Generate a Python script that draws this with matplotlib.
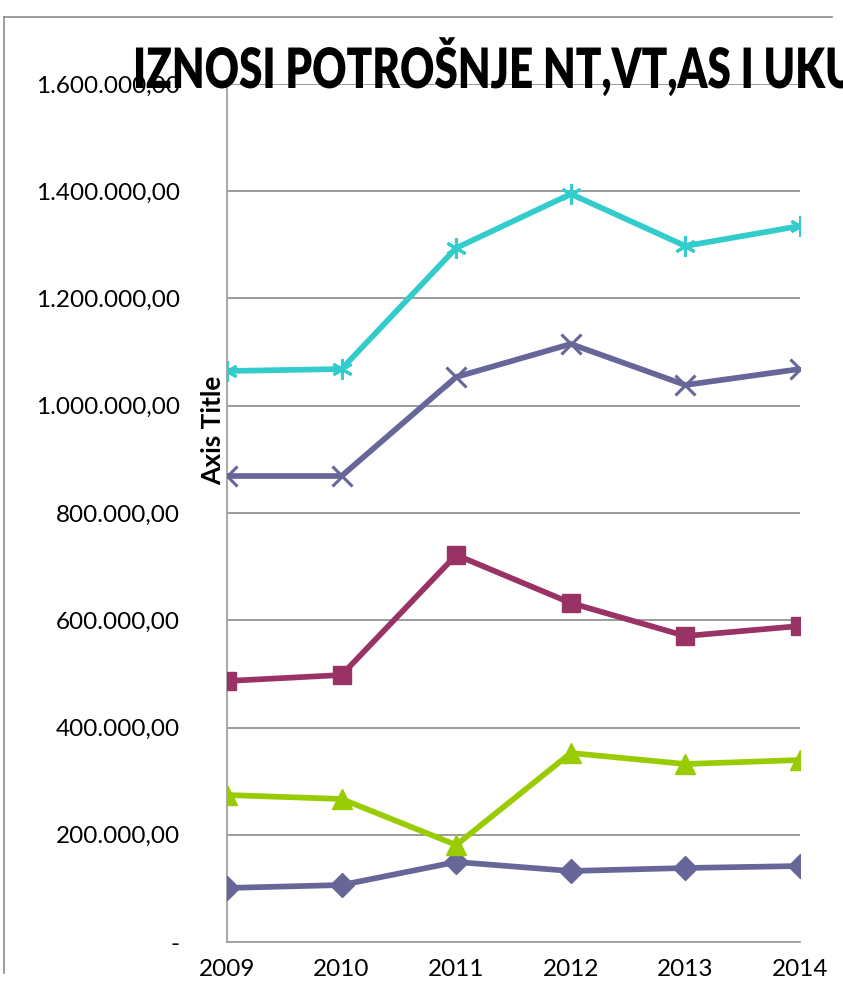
import matplotlib
matplotlib.use("Agg")
import matplotlib.pyplot as plt
from matplotlib.lines import Line2D
from matplotlib.ticker import FuncFormatter, MultipleLocator
from matplotlib.patheffects import AbstractPathEffect
from matplotlib.transforms import Affine2D

years = [2009, 2010, 2011, 2012, 2013, 2014]
series_nt = [100700, 106300, 149200, 132400, 138000, 141700]
series_vt = [274100, 266700, 180900, 352400, 331900, 339400]
series_as = [486700, 497900, 721700, 632200, 570600, 589300]
series_sum = [869000, 869000, 1053600, 1115200, 1038700, 1068500]
series_top = [1064800, 1068500, 1294200, 1394900, 1297900, 1335200]

title = "IZNOSI POTROŠNJE NT,VT,AS I UKUPNO"
axis_title = "Axis Title"

plt.rcParams['font.family'] = ['Lato', 'DejaVu Sans']

W, H = 843, 988
fig = plt.figure(figsize=(W / 100, H / 100), dpi=100)
ax = fig.add_axes([227 / W, 46 / H, (800 - 227) / W, (942 - 84) / H])

lw = 4.1
ax.plot(years, series_nt, color='#666699', lw=lw, marker='D', ms=12, zorder=3)
ax.plot(years, series_vt, color='#99CC00', lw=lw, marker='^', ms=15, zorder=3)
ax.plot(years, series_as, color='#993366', lw=lw, marker='s', ms=13, zorder=3)
ax.plot(years, series_sum, color='#666699', lw=lw, marker='x', ms=14, mew=2.2, zorder=3)
ax.plot(years, series_top, color='#33CCCC', lw=lw, marker=(6, 2, 0), ms=15, mew=2.2, zorder=3)

ax.set_xlim(years[0], years[-1])
ax.set_ylim(0, 1600000)
ax.yaxis.set_major_locator(MultipleLocator(200000))
ax.set_xticks(years)
ax.set_xticklabels([str(y) for y in years])


def fmt(v, pos):
    if v == 0:
        return "-"
    s = f"{int(round(v)):,}".replace(",", ".")
    return s + ",00"


ax.yaxis.set_major_formatter(FuncFormatter(fmt))
ax.grid(axis='y', color='#8a8a8a', lw=1.2)
ax.set_axisbelow(True)
for s in ['top', 'right']:
    ax.spines[s].set_visible(False)
for s in ['left', 'bottom']:
    ax.spines[s].set_color('#a0a0a0')
    ax.spines[s].set_linewidth(1.3)
ax.tick_params(axis='both', length=0, labelsize=17.5)
ax.tick_params(axis='y', pad=34)
ax.tick_params(axis='x', pad=12)

fig.text(213 / W, 1 - 430 / H, axis_title, rotation=90, ha='center', va='center',
         fontsize=19, fontweight='bold')


class HorizontalScale(AbstractPathEffect):
    """Condense text horizontally about a given x (display pixels)."""

    def __init__(self, sx, x0):
        super().__init__()
        self.sx = sx
        self.x0 = x0

    def draw_path(self, renderer, gc, tpath, affine, rgbFace=None):
        t = affine + Affine2D().translate(-self.x0, 0).scale(self.sx, 1).translate(self.x0, 0)
        renderer.draw_path(gc, tpath, t, rgbFace)


title_x = 133
fig.text(title_x / W, 1 - 88 / H, title, ha='left', va='baseline', fontsize=40,
         fontweight='heavy', path_effects=[HorizontalScale(0.76, title_x)])

# outer chart border (partially cropped)
fig.add_artist(Line2D([4 / W, 832 / W], [1 - 17 / H, 1 - 17 / H], color='#8c8c8c', lw=1.2,
                      transform=fig.transFigure))
fig.add_artist(Line2D([4 / W, 4 / W], [1 - 17 / H, 1 - 973 / H], color='#8c8c8c', lw=1.2,
                      transform=fig.transFigure))

fig.savefig("out.png", dpi=100)
